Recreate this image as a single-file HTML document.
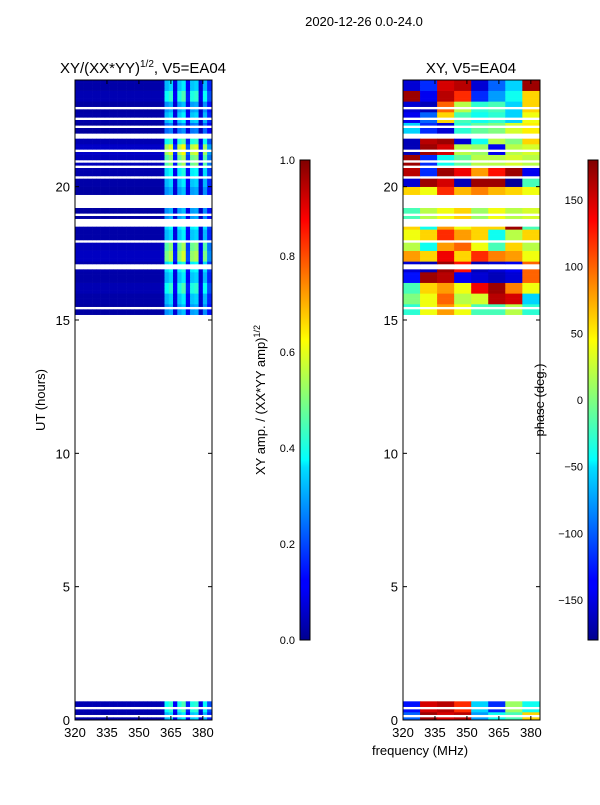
<!DOCTYPE html>
<html><head><meta charset="utf-8"><style>
body{margin:0;background:#fff;}
svg text{font-family:"Liberation Sans",sans-serif;fill:#000;}
</style></head><body>
<svg id="fig" width="600" height="800" xmlns="http://www.w3.org/2000/svg">
<defs>
<linearGradient id="jet" x1="0" y1="1" x2="0" y2="0">
<stop offset="0" stop-color="#00008f"/><stop offset="0.11" stop-color="#0000ff"/><stop offset="0.125" stop-color="#0000ff"/>
<stop offset="0.36" stop-color="#00dfff"/><stop offset="0.375" stop-color="#00ffff"/><stop offset="0.5" stop-color="#7fff7f"/>
<stop offset="0.625" stop-color="#ffff00"/><stop offset="0.64" stop-color="#ffef00"/><stop offset="0.875" stop-color="#ff0000"/><stop offset="1" stop-color="#800000"/>
</linearGradient>
</defs>
<text x="364" y="26" font-size="13" text-anchor="middle">2020-12-26 0.0-24.0</text>
<text x="143" y="73" font-size="15" text-anchor="middle">XY/(XX*YY)<tspan font-size="10" dy="-6">1/2</tspan><tspan dy="6">, V5=EA04</tspan></text>
<text x="471" y="73" font-size="15" text-anchor="middle">XY, V5=EA04</text>
<g id="left"></g>
<g id="right"></g>
<g id="axes"></g>
<rect x="300" y="160" width="10" height="480" fill="url(#jet)" stroke="#000" stroke-width="1"/>
<rect x="588" y="160" width="10" height="480" fill="url(#jet)" stroke="#000" stroke-width="1"/>
<text transform="translate(265,400) rotate(-90)" font-size="13" text-anchor="middle">XY amp. / (XX*YY amp)<tspan font-size="9" dy="-5">1/2</tspan></text>
<text transform="translate(544,400) rotate(-90)" font-size="13" text-anchor="middle">phase (deg.)</text>
<text transform="translate(45,400) rotate(-90)" font-size="13" text-anchor="middle">UT (hours)</text>
<text x="420" y="755" font-size="13" text-anchor="middle">frequency (MHz)</text>
</svg>
<script>
const xTicks=[320,335,350,365,380];
const yTicks=[0,5,10,15,20];
const ampTicks=[0.0,0.2,0.4,0.6,0.8,1.0];
const phaseTicks=[-150,-100,-50,0,50,100,150];
const dataRanges=[[15.2,24.0],[0.0,0.7]];
const gaps=[[22.9,23.0],[22.5,22.6],[22.2,22.3],[21.8,22.0],[21.35,21.45],[20.9,21.0],[20.75,20.8],[20.35,20.45],[20.2,20.25],[19.2,19.75],[18.95,19.05],[18.55,18.8],[18.2,18.25],[17.95,18.0],[17.6,17.65],[17.4,17.45],[16.9,17.1],[16.6,16.65],[16.3,16.35],[15.95,16.0],[15.45,15.5],[15.3,15.35],[0.45,0.5],[0.12,0.16]];
// amplitude vs frequency (2 MHz bins from 320)
const ampProfile=[0.05,0.05,0.05,0.05,0.05,0.05,0.05,0.05,0.05,0.05,0.05,0.05,0.05,0.05,0.05,0.05,0.05,0.05,0.05,0.05,0.06,0.38,0.42,0.12,0.4,0.45,0.15,0.4,0.42,0.1,0.38,0.2];
// row gain per 0.4h band, 24 -> 15.2, then 0.7->0
const ampGain=[0.8,1.0,0.7,0.8,0.6,1.0,1.4,1.2,0.9,0.8,0.7,0.6,0.7,0.9,0.8,1.2,1.3,0.9,0.8,1.0,0.8,0.7];
const ampGainLow=[1.0,0.8];
const phaseGrid=[
[-150,-120,150,160,-150,-100,-60,170],[170,-140,160,120,-120,-80,-40,60],[-150,-160,100,20,-30,-20,-60,60],
[-140,-100,60,-20,-40,-30,-60,40],[-60,-120,-150,-30,-10,0,30,50],[-160,160,170,-150,-40,20,0,60],
[-160,170,150,20,10,-140,20,30],[170,-120,-40,-10,20,20,30,20],[160,-120,170,140,80,130,170,-140],
[-150,170,150,-160,170,170,-170,-20],[60,40,120,70,90,70,60,40],[40,20,60,80,30,0,40,20],
[-20,20,40,60,10,40,20,30],[60,-40,80,40,60,60,170,-20],[40,60,120,80,60,-40,20,60],
[20,-40,80,100,40,-20,60,20],[80,60,140,60,120,90,80,40],[-150,-160,170,130,-160,-150,-140,100],
[-130,170,160,-140,-150,-160,-150,100],[-20,60,80,40,140,170,90,40],[0,40,100,20,30,160,150,-60],[-30,40,80,40,-20,-20,20,-30]];
const phaseLow=[[-130,150,160,120,-60,-120,10,-40],[-100,170,150,160,-80,-40,-20,60]];

const NS='http://www.w3.org/2000/svg';
const fMin=320,fMax=384.3;
function xs(f,x0){return x0+(f-fMin)/(fMax-fMin)*137;}
function ys(h){return 720-h*640/24;}
function jet(v){v=Math.max(0,Math.min(1,v));
 const r=Math.max(0,Math.min(1,1.5-Math.abs(4*v-3))),g=Math.max(0,Math.min(1,1.5-Math.abs(4*v-2))),b=Math.max(0,Math.min(1,1.5-Math.abs(4*v-1)));
 return `rgb(${Math.round(r*255)},${Math.round(g*255)},${Math.round(b*255)})`;}
function inGap(h){return gaps.some(g=>h>=g[0]&&h<g[1]);}
function mk(tag,attrs,parent){const e=document.createElementNS(NS,tag);for(const k in attrs)e.setAttribute(k,attrs[k]);parent.appendChild(e);return e;}
const L=document.getElementById('left'),R=document.getElementById('right');
const dh=0.1;
dataRanges.forEach((rg,ri)=>{
 for(let h=rg[0];h<rg[1]-1e-6;h+=dh){
  if(inGap(h+dh/2))continue;
  let gain,prow;
  if(ri===0){const b=Math.min(ampGain.length-1,Math.floor((24-h-dh/2)/0.4));gain=ampGain[b];prow=phaseGrid[b];}
  else{const b=Math.min(1,Math.floor((0.7-h-dh/2)/0.35));gain=ampGainLow[b];prow=phaseLow[b];}
  const y1=ys(h+dh),hh=ys(h)-y1+0.3;
  ampProfile.forEach((a,i)=>{const f=fMin+i*2;
   const r=mk('rect',{x:xs(f,75),y:y1,width:xs(f+2,75)-xs(f,75)+0.3,height:hh,fill:jet(Math.min(1,a*gain))},L);
   
   });
  prow.forEach((p,i)=>{const f=fMin+i*8;
   const r=mk('rect',{x:xs(f,403),y:y1,width:xs(f+8.04,403)-xs(f,403)+0.3,height:hh,fill:jet((p+180)/360)},R);
   
   });
 }
});
const A=document.getElementById('axes');
[75,403].forEach((x0,pi)=>{
 const fr=mk('rect',{x:x0,y:80,width:137,height:640,fill:'none',stroke:'#000','stroke-width':1},A);
 
 
 xTicks.forEach(t=>{const x=xs(t,x0);
  mk('line',{x1:x,y1:720,x2:x,y2:716,stroke:'#000'},A);mk('line',{x1:x,y1:80,x2:x,y2:84,stroke:'#000'},A);
  const tx=mk('text',{x:x,y:737,'font-size':13,'text-anchor':'middle'},A);tx.textContent=t;
  
  });
 yTicks.forEach(t=>{const y=ys(t);
  mk('line',{x1:x0,y1:y,x2:x0+4,y2:y,stroke:'#000'},A);mk('line',{x1:x0+137,y1:y,x2:x0+133,y2:y,stroke:'#000'},A);
  const tx=mk('text',{x:x0-5,y:y+5,'font-size':13,'text-anchor':'end'},A);tx.textContent=t;
  
  });
});
ampTicks.forEach(t=>{const y=640-t*480;
 mk('line',{x1:300,y1:y,x2:303,y2:y,stroke:'#000'},A);mk('line',{x1:310,y1:y,x2:307,y2:y,stroke:'#000'},A);
 const tx=mk('text',{x:295,y:y+4,'font-size':11,'text-anchor':'end'},A);tx.textContent=t.toFixed(1);
 
 });
phaseTicks.forEach(t=>{const y=640-(t+180)/360*480;
 mk('line',{x1:588,y1:y,x2:591,y2:y,stroke:'#000'},A);mk('line',{x1:598,y1:y,x2:595,y2:y,stroke:'#000'},A);
 const tx=mk('text',{x:583,y:y+4,'font-size':11,'text-anchor':'end'},A);tx.textContent=t<0?'\u2212'+(-t):t;
 
 });
</script>
</body></html>
